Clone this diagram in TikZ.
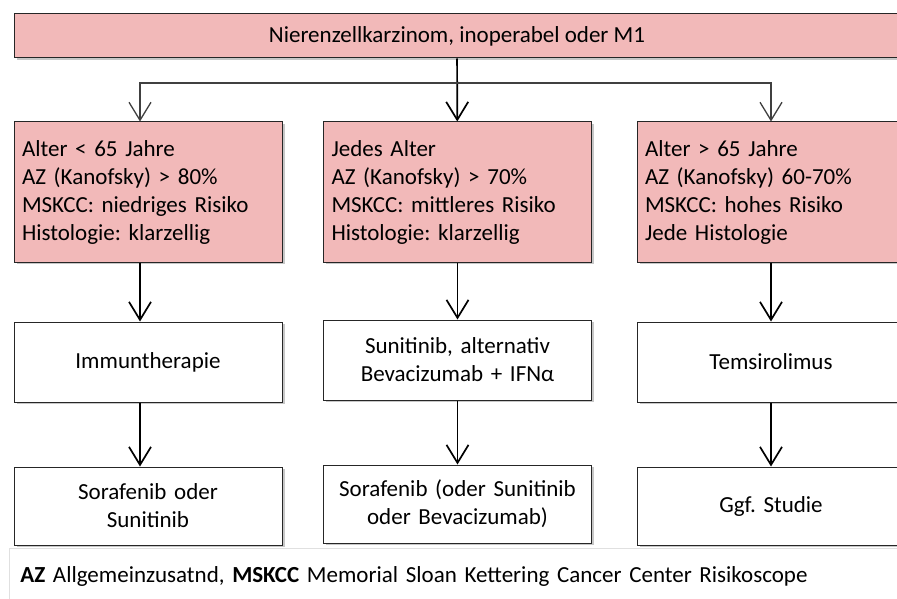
\documentclass[tikz,border=0pt]{standalone}
\usepackage{fontspec}
\setmainfont{Carlito}
\usepackage{tikz}
\usetikzlibrary{shapes}
\usetikzlibrary{arrows.meta}
\usetikzlibrary{shadows}
\definecolor{rosa}{RGB}{242,185,185}
\frenchspacing
\tikzstyle{schatten}=[drop shadow={shadow xshift=2.5pt,shadow yshift=-2pt,fill=black!22,opacity=1}]
\tikzstyle{kopf}=[rectangle,draw=black!85,fill=rosa,line width=1pt,
        minimum width=886pt,minimum height=44pt,inner sep=0pt,schatten]
\tikzstyle{kriterium}=[rectangle,draw=black!85,fill=rosa,line width=1pt,
        minimum width=268pt,minimum height=140pt,text width=252pt,
        inner xsep=8pt,align=left,schatten]
\tikzstyle{therapie}=[rectangle,draw=black!85,fill=white,line width=1pt,
        minimum width=268pt,minimum height=80pt,text width=252pt,
        inner xsep=8pt,align=center,schatten]
\tikzstyle{legende}=[rectangle,draw=black!12,fill=white,line width=0.8pt,
        minimum width=896pt,minimum height=57pt,text width=878pt,
        inner xsep=11pt,align=left]
\tikzstyle{pfeil}=[-{Straight Barb[length=18pt,width=22pt]},line width=1.7pt,black]

\begin{document}
\begin{tikzpicture}[x=1pt,y=-1pt,font=\fontsize{23}{28}\selectfont]
\clip (0,0) rectangle (897,599);
\fill[white] (0,0) rectangle (897,599);
\node[kopf] (kopf) at (457,36) {Nierenzellkarzinom, inoperabel oder M1};
\node[kriterium] (k1) at (148,192) {Alter < 65 Jahre\\AZ (Kanofsky) > 80\%\\MSKCC: niedriges Risiko\\Histologie: klarzellig};
\node[kriterium] (k2) at (457.5,192) {Jedes Alter\\AZ (Kanofsky) > 70\%\\MSKCC: mittleres Risiko\\Histologie: klarzellig};
\node[kriterium] (k3) at (771,192) {Alter > 65 Jahre\\AZ (Kanofsky) 60-70\%\\MSKCC: hohes Risiko\\Jede Histologie};
\node[therapie] (t1) at (148,362) {Immuntherapie};
\node[therapie] (t2) at (457.5,360) {Sunitinib, alternativ\\Bevacizumab + IFNα};
\node[therapie] (t3) at (771,362) {Temsirolimus};
\node[therapie,minimum height=78pt] (z1) at (148,506) {Sorafenib oder\\Sunitinib};
\node[therapie,minimum height=78pt] (z2) at (457.5,504) {Sorafenib (oder Sunitinib\\oder Bevacizumab)};
\node[therapie,minimum height=78pt] (z3) at (771,506) {Ggf. Studie};
\node[legende,anchor=north west] (leg) at (9,548) {\textbf{AZ} Allgemeinzusatnd, \textbf{MSKCC} Memorial Sloan Kettering Cancer Center Risikoscope};
%Pfeile
\coordinate (knoten) at (457,83);
\draw[pfeil] (kopf) -- (k2);
\draw[pfeil,black!75,line width=1.3pt] (knoten) -| ([xshift=-8pt]k1.north);
\draw[pfeil,black!75,line width=1.3pt] (knoten) -| (k3.north);
\draw[pfeil] ([xshift=-8pt]k1.south) -- ([xshift=-8pt]t1.north);
\draw[pfeil] (k2) -- (t2);
\draw[pfeil] (k3) -- (t3);
\draw[pfeil] ([xshift=-8pt]t1.south) -- ([xshift=-8pt]z1.north);
\draw[pfeil] (t2) -- (z2);
\draw[pfeil] (t3) -- (z3);
\end{tikzpicture}
\end{document}
